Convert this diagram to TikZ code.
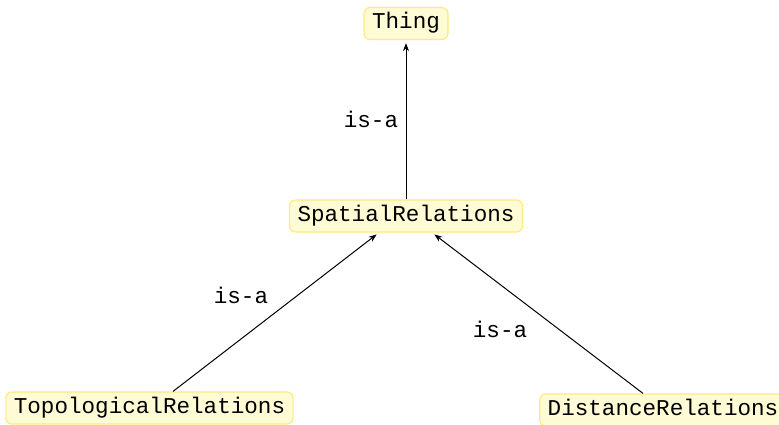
\documentclass[tikz,border=0pt]{standalone}
\usepackage{fontspec}
\setmonofont{Liberation Mono}
\usetikzlibrary{arrows.meta,calc}
\definecolor{boxfill}{HTML}{FFFBD4}
\definecolor{boxline}{HTML}{FFEA80}
\tikzset{
  cls/.style={draw=boxline, line width=1.2pt, fill=boxfill, rounded corners=6pt,
    font=\ttfamily\fontsize{22.6}{24}\selectfont, inner xsep=8pt, inner ysep=0pt,
    minimum height=32pt, text height=15pt, text depth=4pt},
  isa/.style={-{Stealth[length=8pt,width=6pt]}, line width=1pt, shorten >=3pt},
  lbl/.style={font=\ttfamily\fontsize{22.6}{24}\selectfont, inner sep=0pt}
}
\begin{document}
\begin{tikzpicture}[x=1pt,y=-1pt]
\useasboundingbox (0,0) rectangle (779,425);
\clip (0,0) rectangle (779,425);
\node[cls] (thing) at (406,23.5) {Thing};
\node[cls] (spatial) at (406,216) {SpatialRelations};
\node[cls] (topo) at (149.5,408) {TopologicalRelations};
\node[cls] (dist) at (663,410) {DistanceRelations};
\draw[isa] (spatial.north) -- (thing.south) node[lbl, midway, xshift=-35pt] {is-a};
\draw[isa] ($(topo.north)+(23.5,0)$) -- ($(spatial.south)+(-27,0)$)
  node[lbl, midway, xshift=-35pt, yshift=16.5pt] {is-a};
\draw[isa] ($(dist.north)+(-20,0)$) -- ($(spatial.south)+(26,0)$)
  node[lbl, midway, xshift=-37.5pt, yshift=-16.5pt] {is-a};
\end{tikzpicture}
\end{document}
